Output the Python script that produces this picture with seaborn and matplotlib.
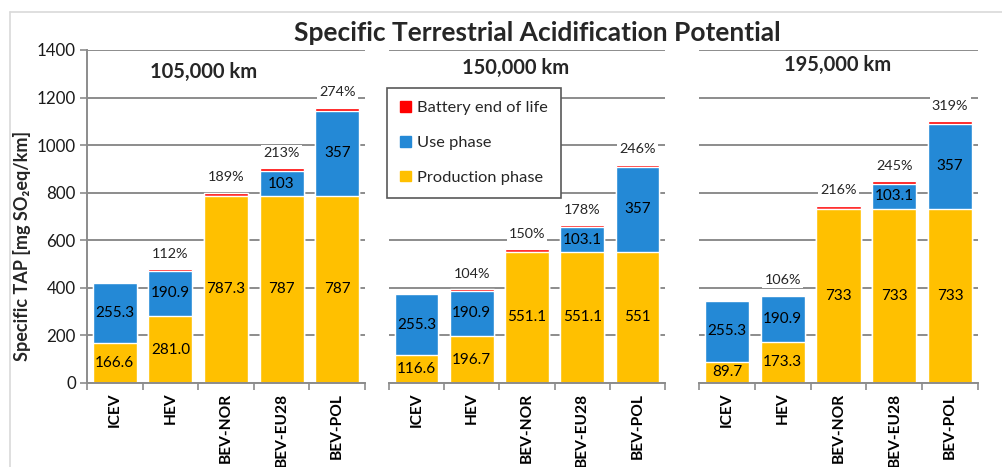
import pandas as pd
import matplotlib.pyplot as plt
import seaborn as sns
from matplotlib.patches import Patch
from matplotlib.lines import Line2D

# Chart data (mg SO2eq/km), one row per mileage panel
vehicles = ["ICEV", "HEV", "BEV-NOR", "BEV-EU28", "BEV-POL"]
distances = ["105,000 km", "150,000 km", "195,000 km"]

production = [
    [166.6, 281.0, 787.3, 787, 787],
    [116.6, 196.7, 551.1, 551.1, 551],
    [89.7, 173.3, 733, 733, 733],
]
use_phase = [
    [255.3, 190.9, 0, 103, 357],
    [255.3, 190.9, 0, 103.1, 357],
    [255.3, 190.9, 0, 103.1, 357],
]
battery_eol = [
    [0, 6, 13, 12, 13],
    [0, 6, 10, 10, 10],
    [0, 6, 13, 12, 12],
]
production_labels = [
    ["166.6", "281.0", "787.3", "787", "787"],
    ["116.6", "196.7", "551.1", "551.1", "551"],
    ["89.7", "173.3", "733", "733", "733"],
]
use_labels = [
    ["255.3", "190.9", "", "103", "357"],
    ["255.3", "190.9", "", "103.1", "357"],
    ["255.3", "190.9", "", "103.1", "357"],
]
pct_labels = [
    ["", "112%", "189%", "213%", "274%"],
    ["", "104%", "150%", "178%", "246%"],
    ["", "106%", "216%", "245%", "319%"],
]

c_prod = "#FFC000"
c_use = "#2489D6"
c_bat = "#FF0000"
grid_c = "#8C8C8C"

# long-form table for seaborn
rows = []
for i, dist in enumerate(distances):
    for j, veh in enumerate(vehicles):
        p, u, b = production[i][j], use_phase[i][j], battery_eol[i][j]
        rows.append({"distance": dist, "vehicle": veh, "prod": p,
                     "prod_use": p + u, "total": p + u + b})
df = pd.DataFrame(rows)

sns.set_theme(style="white")
plt.rcParams["font.family"] = ["Lato", "DejaVu Sans"]

fig = plt.figure(figsize=(10.03, 4.67), dpi=100)

# panel positions in figure fractions
lefts = [0.0867, 0.3878, 0.6969]
widths = [0.2772, 0.2752, 0.2782]
title_x = [0.42, 0.46, 0.495]
title_y = [0.934, 0.946, 0.955]

axes = []
for i, dist in enumerate(distances):
    ax = fig.add_axes([lefts[i], 0.18, widths[i], 0.713])
    axes.append(ax)
    sub = df[df["distance"] == dist]

    # draw cumulative bars back-to-front to get the stack
    sns.barplot(data=sub, x="vehicle", y="total", color=c_bat, saturation=1,
                width=0.79, errorbar=None, ax=ax, zorder=2)
    sns.barplot(data=sub, x="vehicle", y="prod_use", color=c_use, saturation=1,
                width=0.79, errorbar=None, ax=ax, zorder=2)
    sns.barplot(data=sub, x="vehicle", y="prod", color=c_prod, saturation=1,
                width=0.79, errorbar=None, ax=ax, zorder=2)

    ax.set_xlim(-0.5, 4.5)
    ax.set_ylim(0, 1400)
    ax.set_yticks(range(0, 1401, 200))
    ax.yaxis.grid(True, color=grid_c, linewidth=1.4, zorder=0)
    ax.set_axisbelow(True)
    ax.set_xlabel("")
    ax.set_ylabel("")

    for s in ["top", "right", "left"]:
        ax.spines[s].set_visible(False)
    ax.spines["bottom"].set_color(grid_c)
    ax.spines["bottom"].set_linewidth(1.4)

    # category separator ticks like the original
    ax.set_xticks([k - 0.5 for k in range(6)], minor=True)
    ax.tick_params(axis="x", which="minor", length=5, width=1.2, color=grid_c,
                   bottom=True)
    ax.tick_params(axis="x", which="major", length=0, pad=7)
    ax.set_xticks(range(5))
    ax.set_xticklabels(vehicles, rotation=90, fontsize=11.2,
                       fontweight="bold", color="black", va="top")

    if i == 0:
        ax.spines["left"].set_visible(True)
        ax.spines["left"].set_color(grid_c)
        ax.spines["left"].set_linewidth(1.4)
        ax.tick_params(axis="y", left=True, length=5, width=1.2, color=grid_c,
                       labelsize=12.2, labelcolor="#1a1a1a", pad=3)
        ax.set_ylabel("Specific TAP [mg SO₂eq/km]", fontsize=13,
                      fontweight="bold")
        ax.yaxis.set_label_coords(-0.2, 0.41)
    else:
        ax.tick_params(axis="y", left=False, labelleft=False)

    # value labels
    for j in range(5):
        p = production[i][j]
        u = use_phase[i][j]
        top = p + u + battery_eol[i][j]
        ax.text(j, p / 2, production_labels[i][j], ha="center", va="center",
                fontsize=11, color="black", zorder=5)
        if use_labels[i][j]:
            ax.text(j, p + u / 2, use_labels[i][j], ha="center", va="center",
                    fontsize=11, color="black", zorder=5)
        if pct_labels[i][j]:
            ax.annotate(pct_labels[i][j], (j, top), xytext=(0, 11),
                        textcoords="offset points", ha="center", va="center",
                        fontsize=10.4, color="#262626", zorder=5,
                        bbox=dict(boxstyle="square,pad=0.15", fc="white",
                                  ec="none"))

    ax.text(title_x[i], title_y[i], dist, transform=ax.transAxes,
            ha="center", va="center", fontsize=14.5, fontweight="bold")

fig.text(0.5354, 0.929, "Specific Terrestrial Acidification Potential",
         ha="center", va="center", fontsize=19, fontweight="bold")

handles = [Patch(color=c_bat, label="Battery end of life"),
           Patch(color=c_use, label="Use phase"),
           Patch(color=c_prod, label="Production phase")]
leg = fig.legend(handles=handles, loc="upper left",
                 bbox_to_anchor=(0.386, 0.8116), borderaxespad=0,
                 fontsize=11.8, handlelength=0.65, handleheight=0.65,
                 handletextpad=0.4, labelspacing=1.25, borderpad=0.8,
                 fancybox=False, framealpha=1, edgecolor="#595959")
leg.get_frame().set_linewidth(1.2)

# light border of the original image
fig.add_artist(Line2D([0.01, 1.0], [0.974, 0.974], transform=fig.transFigure,
                      color="#D9D9D9", linewidth=1.2))
fig.add_artist(Line2D([0.01, 0.01], [0.0, 0.974], transform=fig.transFigure,
                      color="#D9D9D9", linewidth=1.2))

fig.savefig("out.png", dpi=100)
